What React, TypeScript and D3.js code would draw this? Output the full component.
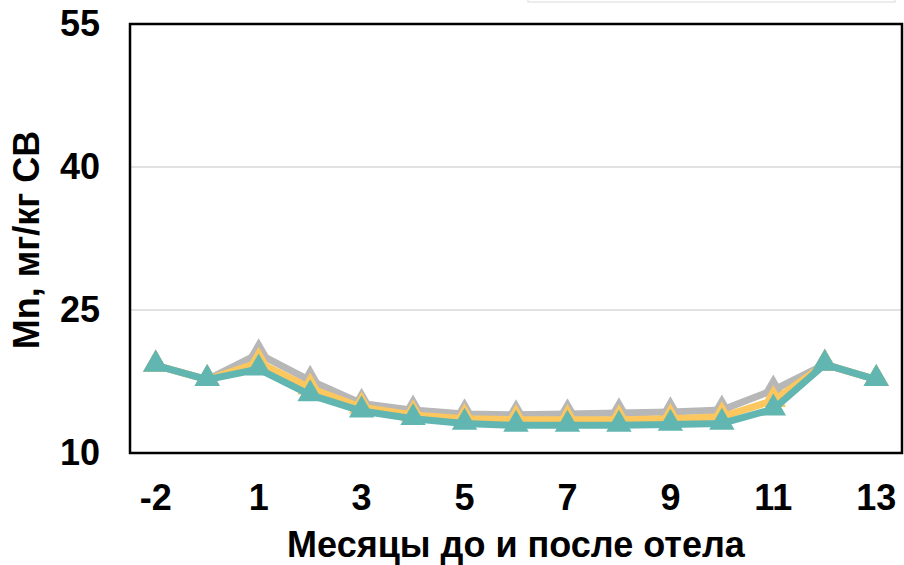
import { useRef, useEffect } from 'react'
import * as d3 from 'd3'

const months = ['-2', '-1', '1', '2', '3', '4', '5', '6', '7', '8', '9', '10', '11', '12', '13']
const shownTicks = ['-2', '1', '3', '5', '7', '9', '11', '13']
const yTicks = [10, 25, 40, 55]

const grayValues = [19.2, 17.7, 20.4, 17.6, 15.2, 14.5, 14.1, 14.0, 14.1, 14.2, 14.3, 14.5, 16.6, 19.3, 17.7]
const yellowValues = [19.2, 17.7, 19.5, 16.8, 14.8, 14.0, 13.6, 13.5, 13.5, 13.5, 13.6, 13.8, 15.5, 19.3, 17.7]
const tealValues = [19.2, 17.7, 18.8, 16.1, 14.4, 13.6, 13.1, 12.9, 12.9, 12.9, 13.0, 13.1, 14.6, 19.3, 17.7]

const seriesColors = ['#b7b7b7', '#fbc75e', '#62b6b1']

const App: React.FC = () => {
  const chartRef = useRef<SVGSVGElement>(null)

  useEffect(() => {
    if (!chartRef.current) return

    const width = 904
    const height = 565
    const left = 130
    const right = 902
    const top = 24
    const bottom = 453
    const font = 'Arial, "Liberation Sans", sans-serif'
    const fs = 36

    const svg = d3.select(chartRef.current)
    svg.selectAll('*').remove()
    svg.attr('width', width).attr('height', height)

    // faint edge of a box above the chart
    svg
      .append('rect')
      .attr('x', 528)
      .attr('y', -10)
      .attr('width', 367)
      .attr('height', 12)
      .attr('fill', '#fff')
      .attr('stroke', '#ececec')
      .attr('stroke-width', 2)

    const x = d3.scaleBand<string>().domain(months).range([left, right])
    const y = d3.scaleLinear().domain([10, 55]).range([bottom, top])
    const cx = (m: string) => (x(m) ?? 0) + x.bandwidth() / 2

    // gridlines
    svg
      .append('g')
      .selectAll('line')
      .data(yTicks.filter((t) => t > 10 && t < 55))
      .enter()
      .append('line')
      .attr('x1', left)
      .attr('x2', right)
      .attr('y1', (d) => y(d))
      .attr('y2', (d) => y(d))
      .attr('stroke', '#d9d9d9')
      .attr('stroke-width', 1.5)

    // y tick labels
    svg
      .append('g')
      .selectAll('text')
      .data(yTicks)
      .enter()
      .append('text')
      .attr('x', 100)
      .attr('y', (d) => y(d) + 12)
      .attr('text-anchor', 'end')
      .attr('font-family', font)
      .attr('font-weight', 'bold')
      .attr('font-size', fs)
      .text((d) => d)

    // x tick labels
    svg
      .append('g')
      .selectAll('text')
      .data(shownTicks)
      .enter()
      .append('text')
      .attr('x', (d) => cx(d))
      .attr('y', 510)
      .attr('text-anchor', 'middle')
      .attr('font-family', font)
      .attr('font-weight', 'bold')
      .attr('font-size', fs)
      .text((d) => d)

    svg
      .append('text')
      .attr('x', 516)
      .attr('y', 557)
      .attr('text-anchor', 'middle')
      .attr('font-family', font)
      .attr('font-weight', 'bold')
      .attr('font-size', fs)
      .text('Месяцы до и после отела')

    svg
      .append('text')
      .attr('transform', `translate(39,240) rotate(-90)`)
      .attr('text-anchor', 'middle')
      .attr('font-family', font)
      .attr('font-weight', 'bold')
      .attr('font-size', fs)
      .text('Mn, мг/кг СВ')

    const line = d3
      .line<number>()
      .x((_, i) => cx(months[i]))
      .y((d) => y(d))

    const tri = d3.symbol().type(d3.symbolTriangle).size(280)

    const allSeries = [grayValues, yellowValues, tealValues]
    allSeries.forEach((vals, si) => {
      const g = svg.append('g')
      g.append('path')
        .attr('d', line(vals) ?? '')
        .attr('fill', 'none')
        .attr('stroke', seriesColors[si])
        .attr('stroke-width', 7)
        .attr('stroke-linejoin', 'round')
      g.selectAll('path.m')
        .data(vals)
        .enter()
        .append('path')
        .attr('class', 'm')
        .attr('d', tri() ?? '')
        .attr('transform', (d, i) => `translate(${cx(months[i])},${y(d) - 1})`)
        .attr('fill', seriesColors[si])
    })

    // plot frame
    svg
      .append('rect')
      .attr('x', left)
      .attr('y', top)
      .attr('width', right - left)
      .attr('height', bottom - top)
      .attr('fill', 'none')
      .attr('stroke', '#000')
      .attr('stroke-width', 2.5)
  }, [])

  return (
    <div style={{ position: 'absolute', left: 0, top: 0 }}>
      <svg ref={chartRef} style={{ display: 'block' }} />
    </div>
  )
}

export default App
